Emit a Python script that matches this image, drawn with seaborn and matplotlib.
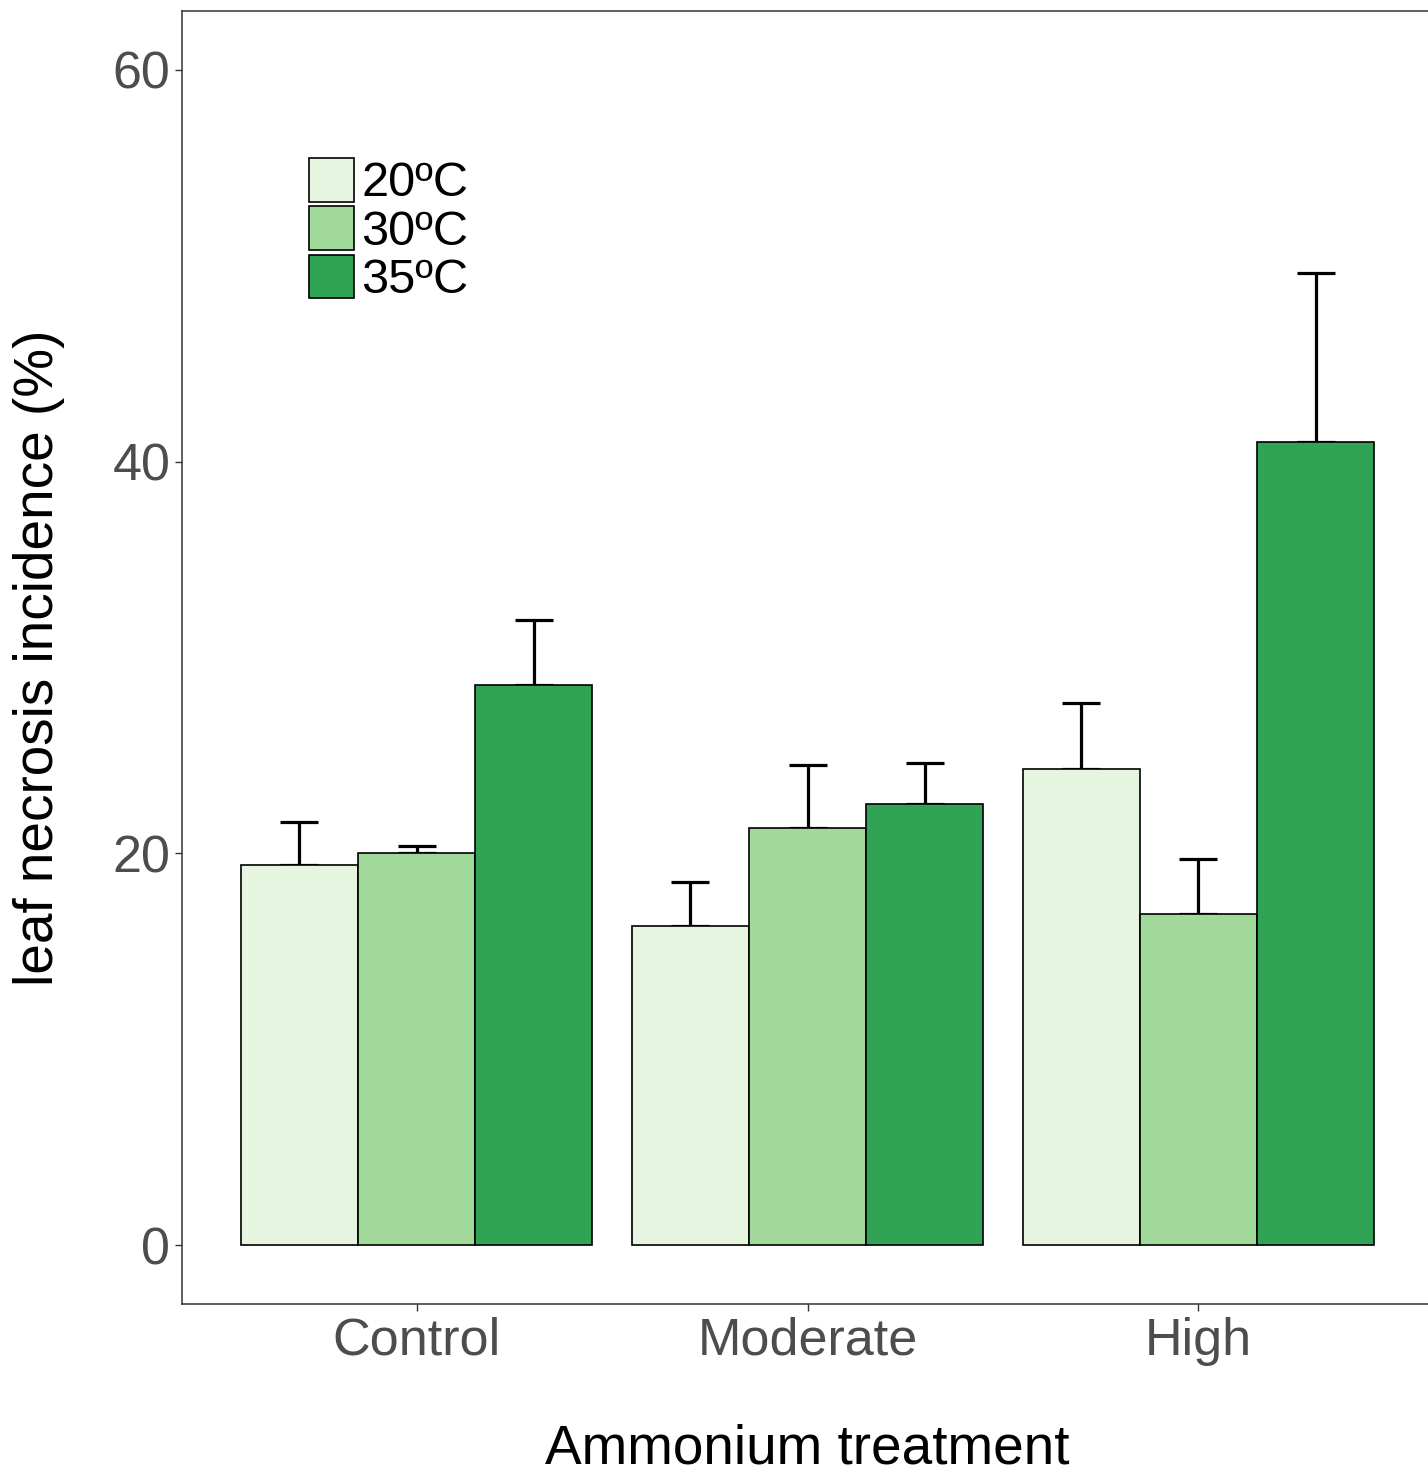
import matplotlib
matplotlib.use("Agg")
import matplotlib.pyplot as plt
import seaborn as sns
import pandas as pd
import numpy as np

# ---- data ----
treatments = ["Control", "Moderate", "High"]
temperatures = ["20ºC", "30ºC", "35ºC"]
mean_20 = [19.4, 16.3, 24.3]
mean_30 = [20.0, 21.3, 16.9]
mean_35 = [28.6, 22.5, 41.0]
se_20 = [2.2, 2.25, 3.4]
se_30 = [0.4, 3.2, 2.8]
se_35 = [3.3, 2.1, 8.65]
colors = ["#E5F5E0", "#A1D99B", "#31A354"]
y_ticks = [0, 20, 40, 60]

rows = []
for temp, means, ses in zip(temperatures, [mean_20, mean_30, mean_35], [se_20, se_30, se_35]):
    for tr, m, s in zip(treatments, means, ses):
        rows.append({"treatment": tr, "temp": temp, "value": m, "se": s})
df = pd.DataFrame(rows)

sns.set_theme(style="white")
plt.rcParams["font.family"] = ["Liberation Sans", "DejaVu Sans"]

fig = plt.figure(figsize=(14.28, 14.68), dpi=100)
W, H = 1428, 1468
ax_l, ax_r, ax_t, ax_b = 182, 1433, 11, 1304
ax = fig.add_axes([ax_l / W, 1 - ax_b / H, (ax_r - ax_l) / W, (ax_b - ax_t) / H])

sns.barplot(data=df, x="treatment", y="value", hue="temp", order=treatments,
            hue_order=temperatures, palette=colors, errorbar=None, width=0.9,
            gap=0, edgecolor="black", linewidth=1.2, saturation=1, ax=ax, zorder=3)

# error bars (upper only), drawn under the bars
for ci, temp in enumerate(temperatures):
    cont = ax.containers[ci]
    sub = df[df["temp"] == temp].set_index("treatment").loc[treatments]
    xs = [b.get_x() + b.get_width() / 2 for b in cont]
    ys = sub["value"].values
    err = sub["se"].values
    ax.errorbar(xs, ys, yerr=[np.zeros_like(err), err], fmt="none", ecolor="black",
                elinewidth=2.3, capsize=13.5, capthick=2.3, zorder=2)

ax.set_ylim(-3, 63)
ax.set_xlim(-0.6, 2.6)
ax.set_yticks(y_ticks)
ax.set_yticklabels([str(v) for v in y_ticks])

for side in ["top", "left", "bottom", "right"]:
    ax.spines[side].set_visible(True)
    ax.spines[side].set_color("#333333")
    ax.spines[side].set_linewidth(1.1)

ax.tick_params(axis="both", which="major", length=5, width=1.0, color="#333333",
               labelsize=37.5, labelcolor="#4D4D4D", direction="out",
               bottom=True, left=True)
ax.tick_params(axis="y", pad=3.5)
ax.tick_params(axis="x", pad=4)

ax.set_xlabel("Ammonium treatment", fontsize=39.5, color="black")
ax.xaxis.label.set_va("baseline")
ax.xaxis.set_label_coords(0.5, (ax_b - 1464) / (ax_b - ax_t))
ax.set_ylabel("leaf necrosis incidence (%)", fontsize=39.5, color="black")
ax.yaxis.label.set_va("baseline")
ax.yaxis.set_label_coords((53 - ax_l) / (ax_r - ax_l), 0.5)

if ax.get_legend() is not None:
    ax.get_legend().remove()
handles = [ax.containers[i][0] for i in range(len(temperatures))]
leg = ax.legend(handles, temperatures, loc="upper left",
                bbox_to_anchor=((309 - ax_l) / (ax_r - ax_l), (ax_b - 158) / (ax_b - ax_t)),
                frameon=False, fontsize=35, handlelength=0.926, handleheight=1.0,
                handletextpad=0.15, labelspacing=0.0, borderpad=0, borderaxespad=0)
for t in leg.get_texts():
    t.set_color("black")

fig.savefig("out.png", dpi=100, facecolor="white")
